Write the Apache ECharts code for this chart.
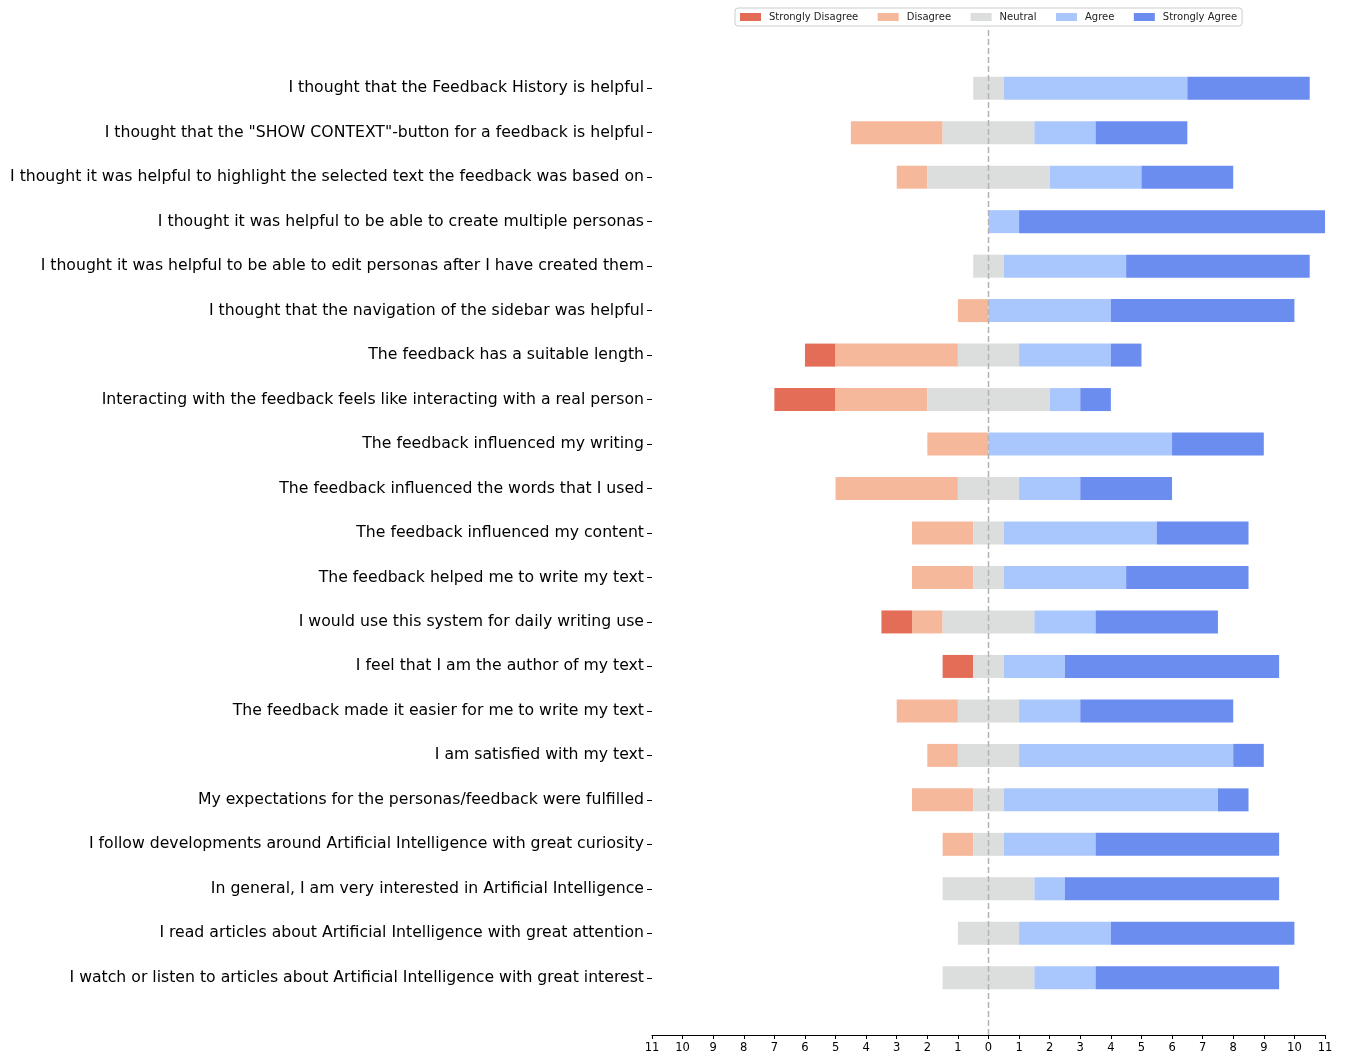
<!DOCTYPE html>
<html>
<head>
<meta charset="utf-8">
<script src="https://cdn.jsdelivr.net/npm/echarts@6/dist/echarts.min.js"></script>
<style>
html, body { margin: 0; padding: 0; background: #fff; }
#chart { width: 1345px; height: 1057px; }
</style>
</head>
<body>
<div id="chart"></div>
<script>
// Likert answers per question (11 participants)
const questions = [
    'I thought that the Feedback History is helpful',
    'I thought that the "SHOW CONTEXT"-button for a feedback is helpful',
    'I thought it was helpful to highlight the selected text the feedback was based on',
    'I thought it was helpful to be able to create multiple personas',
    'I thought it was helpful to be able to edit personas after I have created them',
    'I thought that the navigation of the sidebar was helpful',
    'The feedback has a suitable length',
    'Interacting with the feedback feels like interacting with a real person',
    'The feedback influenced my writing',
    'The feedback influenced the words that I used',
    'The feedback influenced my content',
    'The feedback helped me to write my text',
    'I would use this system for daily writing use',
    'I feel that I am the author of my text',
    'The feedback made it easier for me to write my text',
    'I am satisfied with my text',
    'My expectations for the personas/feedback were fulfilled',
    'I follow developments around Artificial Intelligence with great curiosity',
    'In general, I am very interested in Artificial Intelligence',
    'I read articles about Artificial Intelligence with great attention',
    'I watch or listen to articles about Artificial Intelligence with great interest'
];
const stronglyDisagree = [0, 0, 0, 0, 0, 0, 1, 2, 0, 0, 0, 0, 1, 1, 0, 0, 0, 0, 0, 0, 0];
const disagree         = [0, 3, 1, 0, 0, 1, 4, 3, 2, 4, 2, 2, 1, 0, 2, 1, 2, 1, 0, 0, 0];
const neutral          = [1, 3, 4, 0, 1, 0, 2, 4, 0, 2, 1, 1, 3, 1, 2, 2, 1, 1, 3, 2, 3];
const agree            = [6, 2, 3, 1, 4, 4, 3, 1, 6, 2, 5, 4, 2, 2, 2, 7, 7, 3, 1, 3, 2];
const stronglyAgree    = [4, 3, 3, 10, 6, 6, 1, 1, 3, 3, 3, 4, 4, 7, 5, 1, 1, 6, 7, 6, 6];
const xTicks = [-11, -10, -9, -8, -7, -6, -5, -4, -3, -2, -1, 0, 1, 2, 3, 4, 5, 6, 7, 8, 9, 10, 11];

const colors = ['#e36d57', '#f6b89b', '#dcdddd', '#aac7fd', '#6b8df0'];
const names = ['Strongly Disagree', 'Disagree', 'Neutral', 'Agree', 'Strongly Agree'];
const font = 'DejaVu Sans';

// bars start left of zero so that neutral is centred on 0
const offset = questions.map((q, i) => -(stronglyDisagree[i] + disagree[i] + neutral[i] / 2));

const chart = echarts.init(document.getElementById('chart'));

const barSeries = [stronglyDisagree, disagree, neutral, agree, stronglyAgree].map((vals, k) => ({
    name: names[k],
    type: 'bar',
    stack: 'total',
    stackStrategy: 'all',
    xAxisIndex: 1,
    yAxisIndex: 1,
    barWidth: 23,
    itemStyle: { color: colors[k] },
    data: vals
}));

const option = {
    animation: false,
    textStyle: { fontFamily: font },
    legend: {
        data: names,
        left: 735,
        top: 8,
        itemWidth: 21,
        itemHeight: 8,
        itemGap: 19.5,
        padding: [4, 5],
        borderColor: '#cccccc',
        borderWidth: 1,
        borderRadius: 3,
        textStyle: { fontSize: 10, color: '#222', fontFamily: font, padding: [0, 0, 0, 3] },
        icon: 'rect'
    },
    grid: [
        { left: 652, right: 20, top: 30, height: 1005 },
        { left: 652, right: 20, top: 66, height: 934 }
    ],
    xAxis: [
        {
            gridIndex: 0,
            type: 'value',
            min: xTicks[0],
            max: xTicks[xTicks.length - 1],
            interval: 1,
            axisLine: { show: true, onZero: false, lineStyle: { color: '#000', width: 1 } },
            axisTick: { show: true, length: 4, lineStyle: { color: '#000' } },
            axisLabel: {
                color: '#000',
                fontSize: 11.5,
                margin: 7,
                formatter: v => String(Math.abs(v))
            },
            splitLine: { show: false }
        },
        {
            gridIndex: 1,
            type: 'value',
            min: xTicks[0],
            max: xTicks[xTicks.length - 1],
            show: false,
            splitLine: { show: false }
        }
    ],
    yAxis: [
        { gridIndex: 0, type: 'value', min: 0, max: 1, show: false, splitLine: { show: false } },
        {
            gridIndex: 1,
            type: 'category',
            position: 'left',
            inverse: true,
            data: questions,
            axisLine: { show: false, onZero: false },
            axisTick: { show: true, length: 5, alignWithLabel: true, lineStyle: { color: '#000' } },
            axisLabel: { color: '#000', fontSize: 15.7, margin: 8, interval: 0, padding: [5, 0, 0, 0] }
        }
    ],
    series: [
        {
            name: 'offset',
            type: 'bar',
            stack: 'total',
            stackStrategy: 'all',
            xAxisIndex: 1,
            yAxisIndex: 1,
            barWidth: 23,
            silent: true,
            itemStyle: { color: 'rgba(0,0,0,0)' },
            data: offset
        },
        ...barSeries,
        {
            name: 'zero',
            type: 'line',
            xAxisIndex: 0,
            yAxisIndex: 0,
            symbol: 'none',
            silent: true,
            z: 10,
            lineStyle: { color: '#b3b3b3', width: 1.5, type: [6, 3] },
            data: [[0, 0], [0, 1]]
        }
    ]
};

option && chart.setOption(option);
</script>
</body>
</html>
